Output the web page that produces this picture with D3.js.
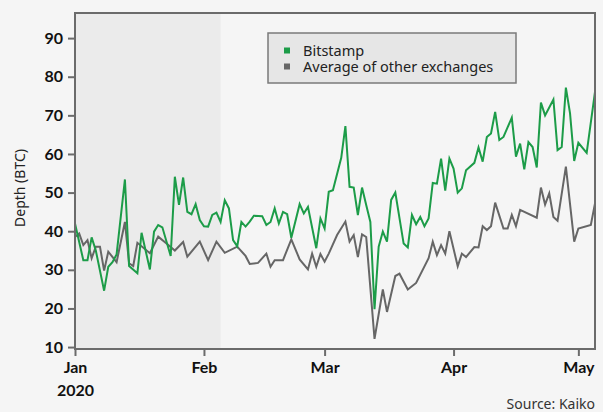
<!DOCTYPE html>
<html>
<head>
<meta charset="utf-8">
<script src="https://cdn.jsdelivr.net/npm/d3@7"></script>
<style>
  html, body { margin: 0; padding: 0; background: #f5f5f5; }
  svg { display: block; font-family: "Noto Sans", sans-serif; }
</style>
</head>
<body>
<div class="viz"></div>
<script>
// days after 1 Jan 2020 at each visible vertex
const bitstampDays = [0, 2, 3, 4, 5, 7, 8, 9, 10, 12, 13, 15, 16, 18, 19, 20, 21, 23, 24, 25, 26, 27, 28, 29, 30, 31, 32, 33, 34, 35, 36, 37, 38, 39, 40, 41, 42, 43, 45, 46, 47, 48, 49, 50, 51, 52, 54, 55, 56, 58, 59, 60, 61, 62, 64, 65, 66, 67, 68, 69, 70, 71, 72, 73, 74, 75, 76, 77, 79, 80, 81, 82, 83, 84, 85, 86, 87, 88, 89, 90, 91, 92, 93, 94, 96, 97, 98, 99, 100, 101, 102, 103, 105, 106, 107, 108, 109, 110, 111, 112, 113, 115, 116, 117, 118, 119, 120, 121, 123, 125];
const bitstampDepth = [42, 32.5, 32.5, 38.4, 35, 24.6, 30.8, 32, 34, 53.4, 31, 29.1, 39.6, 30.1, 39.9, 41.6, 41, 33.6, 54.1, 46.8, 53.9, 45, 44.4, 47, 42.9, 41.3, 41.2, 44.2, 44.8, 42.4, 48, 45.9, 37.7, 36.1, 42.4, 41.2, 42.5, 44, 43.9, 41.6, 42.4, 45.9, 42, 45, 44.4, 38.3, 47, 44.6, 46.3, 35.6, 43.3, 40.7, 50.2, 50.6, 59, 67.2, 51.5, 51.3, 44.2, 51.3, 46.8, 42.4, 19.8, 36, 39.9, 37.3, 48.1, 50, 36.8, 35.8, 44.2, 41.8, 43.7, 41.3, 43.3, 52.5, 52.3, 58.8, 50.5, 58.8, 56.2, 50, 51.1, 55.8, 57.7, 61.7, 58, 64.4, 65.3, 70.9, 63.6, 64.4, 69.4, 59.3, 62.7, 56, 63.1, 61.8, 56.5, 73.3, 70, 74.1, 61, 61.8, 77.2, 70.5, 58.2, 62.9, 60.3, 76.1];

const otherDays = [0, 1, 2, 3, 4, 5, 6, 7, 8, 10, 12, 13, 14, 15, 18, 20, 22, 24, 26, 27, 30, 32, 34, 36, 39, 41, 42, 44, 46, 47, 48, 50, 52, 54, 56, 57, 58, 59, 60, 61, 63, 65, 66, 67, 68, 69, 70, 72, 74, 75, 77, 78, 80, 82, 85, 86, 87, 88, 89, 90, 92, 93, 94, 96, 97, 98, 99, 100, 101, 103, 104, 105, 106, 107, 111, 112, 113, 114, 115, 116, 118, 120, 121, 124, 125];
const otherDepth = [38.5, 39.4, 36.4, 37.7, 33, 36, 36, 29.8, 34.7, 32, 42.4, 31.7, 31, 37, 34.3, 38.6, 36.8, 35, 37.2, 33.4, 37.3, 32.5, 37.3, 34.4, 36, 33.6, 31.5, 31.8, 34.2, 30.8, 32.5, 32.5, 37.9, 32.7, 30.1, 34.2, 30.8, 34.1, 32.1, 34.2, 39, 42.5, 37.3, 39, 33.3, 39.2, 38.5, 12.1, 24.9, 19.1, 28.4, 29, 24.9, 26.6, 33, 37.3, 33.8, 36.4, 34.2, 40, 30.9, 34.2, 33.3, 35.9, 35.8, 41.3, 40.3, 41.3, 47.4, 40.7, 40.7, 44.2, 41.3, 45.5, 43.5, 51.3, 46.9, 49.8, 43.7, 42.7, 56.7, 37.3, 40.7, 41.6, 47.2];

const seriesNames = ['Bitstamp', 'Average of other exchanges'];
const yTicks = [10, 20, 30, 40, 50, 60, 70, 80, 90];
const monthTicks = ['Jan', 'Feb', 'Mar', 'Apr', 'May'];
// shaded period, in days after 1 Jan 2020
const shadedDays = [0, 35];

const start = new Date(Date.UTC(2020, 0, 1));
const toDate = d => d3.utcDay.offset(start, d);

const W = 603;
const H = 412;
const margin = { top: 13, right: 8, bottom: 63, left: 75 };
const width = W - margin.left - margin.right;
const height = H - margin.top - margin.bottom;

const green = '#1c9c48';
const grey = '#666666';

const svg = d3.select('.viz')
  .append('svg')
  .attr('width', W)
  .attr('height', H);

svg.append('rect').attr('width', W).attr('height', H).attr('fill', '#f5f5f5');

const g = svg.append('g')
  .attr('transform', `translate(${margin.left} ${margin.top})`);

const xScale = d3.scaleUtc()
  .domain([start, toDate(125)])
  .range([0, width]);

const yScale = d3.scaleLinear()
  .domain([9.5, 96.5])
  .range([height, 0]);

// shaded background for the first weeks
g.append('rect')
  .attr('x', xScale(toDate(shadedDays[0])))
  .attr('y', 0)
  .attr('width', xScale(toDate(shadedDays[1])) - xScale(toDate(shadedDays[0])))
  .attr('height', height)
  .attr('fill', '#ebebeb');

const line = d3.line()
  .x(d => xScale(toDate(d[0])))
  .y(d => yScale(d[1]));

const other = otherDays.map((d, i) => [d, otherDepth[i]]);
const bitstamp = bitstampDays.map((d, i) => [d, bitstampDepth[i]]);

g.append('path')
  .attr('d', line(other))
  .attr('fill', 'none')
  .attr('stroke', grey)
  .attr('stroke-width', 2);

g.append('path')
  .attr('d', line(bitstamp))
  .attr('fill', 'none')
  .attr('stroke', green)
  .attr('stroke-width', 2);

// frame
g.append('rect')
  .attr('width', width)
  .attr('height', height)
  .attr('fill', 'none')
  .attr('stroke', '#6b6b6b')
  .attr('stroke-width', 2);

// axes
const yAxis = d3.axisLeft(yScale)
  .tickValues(yTicks)
  .tickSize(7)
  .tickPadding(5);

g.append('g').attr('class', 'axis y-axis').call(yAxis);

const monthDates = monthTicks.map((m, i) => d3.utcMonth.offset(start, i));
const xAxis = d3.axisBottom(xScale)
  .tickValues(monthDates)
  .tickFormat((d, i) => monthTicks[i])
  .tickSize(7)
  .tickPadding(6);

const gx = g.append('g')
  .attr('class', 'axis x-axis')
  .attr('transform', `translate(0 ${height})`)
  .call(xAxis);

d3.selectAll('.axis').selectAll('path.domain').remove();
d3.selectAll('.axis').selectAll('line')
  .attr('stroke', '#6b6b6b')
  .attr('stroke-width', 2);
d3.selectAll('.axis').selectAll('text')
  .attr('font-family', 'Lato, "Noto Sans", sans-serif')
  .attr('font-size', 16)
  .attr('font-weight', 'bold')
  .attr('fill', '#111');

gx.selectAll('g.tick')
  .filter((d, i) => i === 0)
  .select('text')
  .append('tspan')
  .attr('x', 0)
  .attr('dy', '1.4em')
  .text('2020');

// y axis title
svg.append('text')
  .attr('transform', `translate(25 ${margin.top + height / 2 + 7}) rotate(-90)`)
  .attr('text-anchor', 'middle')
  .attr('font-size', 14)
  .attr('fill', '#222')
  .text('Depth (BTC)');

// legend
const legend = svg.append('g').attr('transform', 'translate(268 33)');
legend.append('rect')
  .attr('width', 248)
  .attr('height', 50)
  .attr('fill', '#e6e6e6')
  .attr('stroke', '#7a7a7a')
  .attr('stroke-width', 1.5);

const items = legend.selectAll('g.item')
  .data(seriesNames)
  .enter()
  .append('g')
  .attr('class', 'item')
  .attr('transform', (d, i) => `translate(0 ${17.5 + i * 16})`);

items.append('rect')
  .attr('x', 16)
  .attr('y', -3)
  .attr('width', 6)
  .attr('height', 6)
  .attr('fill', (d, i) => (i === 0 ? green : grey));

items.append('text')
  .attr('x', 35)
  .attr('y', 5)
  .attr('font-size', 14.5)
  .attr('fill', '#222')
  .text(d => d);

// source
svg.append('text')
  .attr('x', 595)
  .attr('y', 409)
  .attr('text-anchor', 'end')
  .attr('font-size', 14)
  .attr('fill', '#333')
  .text('Source: Kaiko');
</script>
</body>
</html>
